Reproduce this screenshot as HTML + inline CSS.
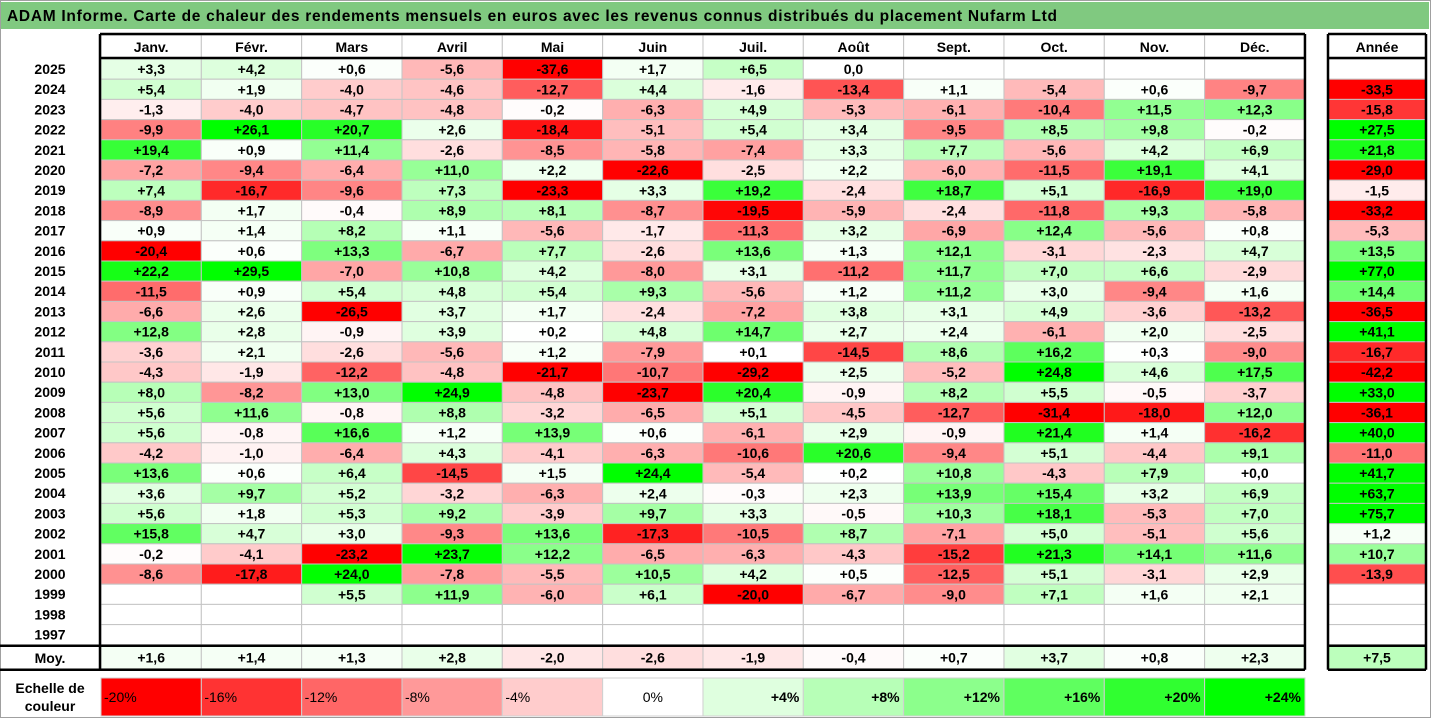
<!DOCTYPE html>
<html><head><meta charset="utf-8"><style>
body{margin:0;background:#fff;}
svg text{font-family:"Liberation Sans",Arial,sans-serif;}
</style></head><body>
<svg id="hm" width="1431" height="718" viewBox="0 0 1431 718" xmlns="http://www.w3.org/2000/svg">
<rect x="0.5" y="0.5" width="1430" height="717" fill="#fff" stroke="#a0a0a0"/>
<rect x="1" y="2" width="1428" height="27" fill="#80c980"/>
<text x="7" y="21" font-size="15.5" font-weight="bold" fill="#000" textLength="1050" lengthAdjust="spacing">ADAM Informe. Carte de chaleur des rendements mensuels en euros avec les revenus connus distribués du placement Nufarm Ltd</text>
<g id="cells"></g>
<g id="frame"></g>
</svg>
<script>
const months=["Janv.","Févr.","Mars","Avril","Mai","Juin","Juil.","Août","Sept.","Oct.","Nov.","Déc."];
const years=["2025","2024","2023","2022","2021","2020","2019","2018","2017","2016","2015","2014","2013","2012","2011","2010","2009","2008","2007","2006","2005","2004","2003","2002","2001","2000","1999","1998","1997"];
const N=null;
const values=[
[3.3,4.2,0.6,-5.6,-37.6,1.7,6.5,0,N,N,N,N],
[5.4,1.9,-4.0,-4.6,-12.7,4.4,-1.6,-13.4,1.1,-5.4,0.6,-9.7],
[-1.3,-4.0,-4.7,-4.8,-0.2,-6.3,4.9,-5.3,-6.1,-10.4,11.5,12.3],
[-9.9,26.1,20.7,2.6,-18.4,-5.1,5.4,3.4,-9.5,8.5,9.8,-0.2],
[19.4,0.9,11.4,-2.6,-8.5,-5.8,-7.4,3.3,7.7,-5.6,4.2,6.9],
[-7.2,-9.4,-6.4,11.0,2.2,-22.6,-2.5,2.2,-6.0,-11.5,19.1,4.1],
[7.4,-16.7,-9.6,7.3,-23.3,3.3,19.2,-2.4,18.7,5.1,-16.9,19.0],
[-8.9,1.7,-0.4,8.9,8.1,-8.7,-19.5,-5.9,-2.4,-11.8,9.3,-5.8],
[0.9,1.4,8.2,1.1,-5.6,-1.7,-11.3,3.2,-6.9,12.4,-5.6,0.8],
[-20.4,0.6,13.3,-6.7,7.7,-2.6,13.6,1.3,12.1,-3.1,-2.3,4.7],
[22.2,29.5,-7.0,10.8,4.2,-8.0,3.1,-11.2,11.7,7.0,6.6,-2.9],
[-11.5,0.9,5.4,4.8,5.4,9.3,-5.6,1.2,11.2,3.0,-9.4,1.6],
[-6.6,2.6,-26.5,3.7,1.7,-2.4,-7.2,3.8,3.1,4.9,-3.6,-13.2],
[12.8,2.8,-0.9,3.9,0.2,4.8,14.7,2.7,2.4,-6.1,2.0,-2.5],
[-3.6,2.1,-2.6,-5.6,1.2,-7.9,0.1,-14.5,8.6,16.2,0.3,-9.0],
[-4.3,-1.9,-12.2,-4.8,-21.7,-10.7,-29.2,2.5,-5.2,24.8,4.6,17.5],
[8.0,-8.2,13.0,24.9,-4.8,-23.7,20.4,-0.9,8.2,5.5,-0.5,-3.7],
[5.6,11.6,-0.8,8.8,-3.2,-6.5,5.1,-4.5,-12.7,-31.4,-18.0,12.0],
[5.6,-0.8,16.6,1.2,13.9,0.6,-6.1,2.9,-0.9,21.4,1.4,-16.2],
[-4.2,-1.0,-6.4,4.3,-4.1,-6.3,-10.6,20.6,-9.4,5.1,-4.4,9.1],
[13.6,0.6,6.4,-14.5,1.5,24.4,-5.4,0.2,10.8,-4.3,7.9,0.04],
[3.6,9.7,5.2,-3.2,-6.3,2.4,-0.3,2.3,13.9,15.4,3.2,6.9],
[5.6,1.8,5.3,9.2,-3.9,9.7,3.3,-0.5,10.3,18.1,-5.3,7.0],
[15.8,4.7,3.0,-9.3,13.6,-17.3,-10.5,8.7,-7.1,5.0,-5.1,5.6],
[-0.2,-4.1,-23.2,23.7,12.2,-6.5,-6.3,-4.3,-15.2,21.3,14.1,11.6],
[-8.6,-17.8,24.0,-7.8,-5.5,10.5,4.2,0.5,-12.5,5.1,-3.1,2.9],
[N,N,5.5,11.9,-6.0,6.1,-20.0,-6.7,-9.0,7.1,1.6,2.1],
[N,N,N,N,N,N,N,N,N,N,N,N],
[N,N,N,N,N,N,N,N,N,N,N,N]];
const yearTotals=[N,-33.5,-15.8,27.5,21.8,-29.0,-1.5,-33.2,-5.3,13.5,77.0,14.4,-36.5,41.1,-16.7,-42.2,33.0,-36.1,40.0,-11.0,41.7,63.7,75.7,1.2,10.7,-13.9,N,N,N];
const averages=[1.6,1.4,1.3,2.8,-2.0,-2.6,-1.9,-0.4,0.7,3.7,0.8,2.3];
const avgTotal=7.5;
const scaleTicks=[-20,-16,-12,-8,-4,0,4,8,12,16,20,24];

const X0=101,CW=100.33,YX=1328,YW=98,HY=35,HH=23,R0=59,RH=20.2;
const colX=i=>X0+i*CW;
const rowY=j=>R0+j*RH;
const MY=rowY(years.length)+1, MH=23;
function color(v){
  if(v==null) return "#ffffff";
  if(v<0){const t=Math.min(1,-v/20);const g=Math.round(255*(1-t));return `rgb(255,${g},${g})`;}
  const t=Math.pow(Math.min(1,v/24),1.15);const r=Math.round(255*(1-t));return `rgb(${r},255,${r})`;
}
function fmt(v){
  if(v==null) return "";
  if(v===0) return "0,0";
  const s=Math.abs(v).toFixed(1).replace(".",",");
  return (v<0?"-":"+")+s;
}
const NS="http://www.w3.org/2000/svg";
const cells=document.getElementById("cells");
function mk(tag,attrs,parent){const e=document.createElementNS(NS,tag);for(const k in attrs)e.setAttribute(k,attrs[k]);(parent||cells).appendChild(e);return e;}
function cell(x,y,w,h,v,name){
  const r=mk("rect",{x:x,y:y,width:w,height:h,fill:color(v),stroke:"#c4c4c4","stroke-width":1});
  
  
  if(v!=null){
    const t=mk("text",{x:x+w/2,y:y+h/2+5,"text-anchor":"middle","font-size":14,"font-weight":"bold"});
    
    
    t.textContent=fmt(v);
  }
}
function label(x,y,txt,name,anchor,weight,size){
  const t=mk("text",{x:x,y:y,"text-anchor":anchor||"middle","font-size":size||14,"font-weight":weight||"bold"});
  
  
  t.textContent=txt;return t;
}
months.forEach((m,i)=>{
  const r=mk("rect",{x:colX(i),y:HY,width:CW,height:HH,fill:"#fff",stroke:"#c4c4c4"});
  
  
  label(colX(i)+CW/2,HY+17,m,'month-header');
});
label(YX+YW/2,HY+17,"Année",'year-total-header');
years.forEach((y,j)=>{
  label(50,rowY(j)+15,y,'year-label');
  values[j].forEach((v,i)=>cell(colX(i),rowY(j),CW,RH,v,'cell-'+y+'-'+i));
  cell(YX,rowY(j),YW,RH,yearTotals[j],'year-total-'+y);
});
label(50,MY+17,"Moy.",'average-label');
averages.forEach((v,i)=>cell(colX(i),MY,CW,MH,v,'average-'+i));
cell(YX,MY,YW,MH,avgTotal,'average-total');
const SY=678,SH=38;
label(50,SY+15,"Echelle de",'scale-title');
label(50,SY+33,"couleur",'scale-title-2');
scaleTicks.forEach((v,i)=>{
  const x=colX(i);
  const r=mk("rect",{x:x,y:SY,width:CW,height:SH,fill:color(v),stroke:"#d0d0d0"});
  
  
  const txt=(v>0?"+":"")+v+"%";
  if(v<0) label(x+3,SY+24,txt,'scale-label','start','normal');
  else if(v===0) label(x+CW/2,SY+24,txt,'scale-label','middle','normal');
  else label(x+CW-4,SY+24,txt,'scale-label','end','bold');
});
const fr=document.getElementById("frame");
function line(x1,y1,x2,y2,name){const l=mk("line",{x1:x1,y1:y1,x2:x2,y2:y2,stroke:"#000","stroke-width":2.5},fr);
  
  }
const RX=colX(12);
line(100,34,RX,34,'frame-top');
line(100,34,100,MY+MH+1,'frame-left');
line(RX,34,RX,MY+MH+1,'frame-right');
line(100,HY+HH,RX,HY+HH,'header-bottom');
line(0,MY,RX,MY,'average-top');
line(0,MY+MH+1,RX,MY+MH+1,'average-bottom');
line(YX,34,YX+YW,34,'year-frame-top');
line(YX,34,YX,MY+MH+1,'year-frame-left');
line(YX+YW,34,YX+YW,MY+MH+1,'year-frame-right');
line(YX,HY+HH,YX+YW,HY+HH,'year-header-bottom');
line(YX,MY,YX+YW,MY,'year-average-top');
line(YX,MY+MH+1,YX+YW,MY+MH+1,'year-average-bottom');
</script>
</body></html>
